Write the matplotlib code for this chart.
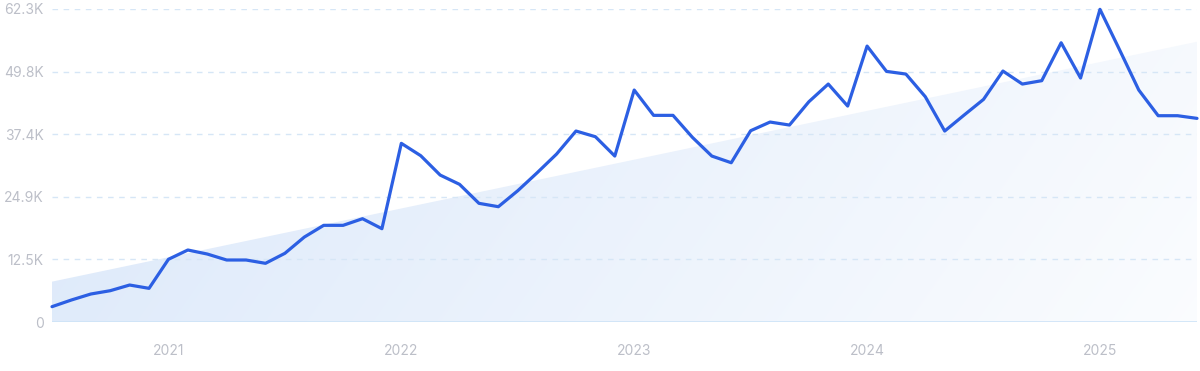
import matplotlib
import numpy as np

matplotlib.use("Agg")
import matplotlib.pyplot as plt
from matplotlib.colors import to_rgb
from matplotlib.patches import Polygon

# Monthly values, Jul 2020 .. Jun 2025
values = [
    3050, 4380, 5570, 6230, 7360, 6700,                # 2020 H2
    12480, 14330, 13530, 12340, 12340, 11680,          # 2021
    13670, 16900, 19240, 19240, 20560, 18570,
    35560, 33100, 29250, 27400, 23620, 22950,          # 2022
    26130, 29710, 33430, 38010, 36880, 33030,
    46170, 41130, 41130, 36750, 33030, 31700,          # 2023
    38070, 39800, 39200, 43840, 47360, 42980,
    54920, 49880, 49350, 44840, 38010, 41190,          # 2024
    44310, 49950, 47360, 48030, 55580, 48560,
    62230, 54260, 46170, 41060, 41060, 40530,          # 2025
]
trend_ends = [8030, 55780]
y_ticks = [0, 12460, 24920, 37380, 49840, 62300]
y_labels = ["0", "12.5K", "24.9K", "37.4K", "49.8K", "62.3K"]
year_ticks = [6, 18, 30, 42, 54]
year_labels = ["2021", "2022", "2023", "2024", "2025"]

months = np.arange(len(values))
ymax = 62300
xmax = months[-1]

plt.rcParams["font.family"] = ["Inter", "DejaVu Sans"]

fig = plt.figure(figsize=(12, 3.71), dpi=100)
ax = fig.add_axes([52 / 1200, 1 - 322 / 371, (1197 - 52) / 1200, (322 - 9) / 371])
ax.set_xlim(0, xmax)
ax.set_ylim(0, ymax)

# trend area with gradient fill
poly = Polygon([(0, 0), (0, trend_ends[0]), (xmax, trend_ends[1]), (xmax, 0)],
               closed=True, facecolor="none", edgecolor="none")
ax.add_patch(poly)
nx, ny = 300, 100
xn = np.linspace(0, 1, nx)[None, :]
yn = np.linspace(0, 1, ny)[:, None]
w = np.clip(0.74 * xn + 0.14 * (1 - yn), 0, 1)
blue = np.array(to_rgb("#dbe8fa"))
img = blue[None, None, :] * (1 - w[..., None]) + w[..., None]
im = ax.imshow(img, extent=(0, xmax, 0, ymax), origin="lower", aspect="auto",
               interpolation="bilinear", zorder=1)
im.set_clip_path(poly)

# grid
for t in y_ticks[1:]:
    ax.axhline(t, color="#d6e6f6", lw=1, ls=(0, (4, 4)), zorder=1.5)
ax.axhline(0, color="#cde3f7", lw=1.2, zorder=2)

ax.plot(months, values, color="#2c5fe3", lw=2.3, zorder=3, clip_on=False,
        solid_joinstyle="round", solid_capstyle="round")

for s in ax.spines.values():
    s.set_visible(False)
ax.set_yticks(y_ticks)
ax.set_yticklabels(y_labels)
ax.set_xticks(year_ticks)
ax.set_xticklabels(year_labels)
ax.tick_params(axis="both", length=0, labelsize=10, labelcolor="#bcbfc8")
ax.tick_params(axis="y", pad=6)
ax.tick_params(axis="x", pad=16)

fig.savefig("out.png", dpi=100)
